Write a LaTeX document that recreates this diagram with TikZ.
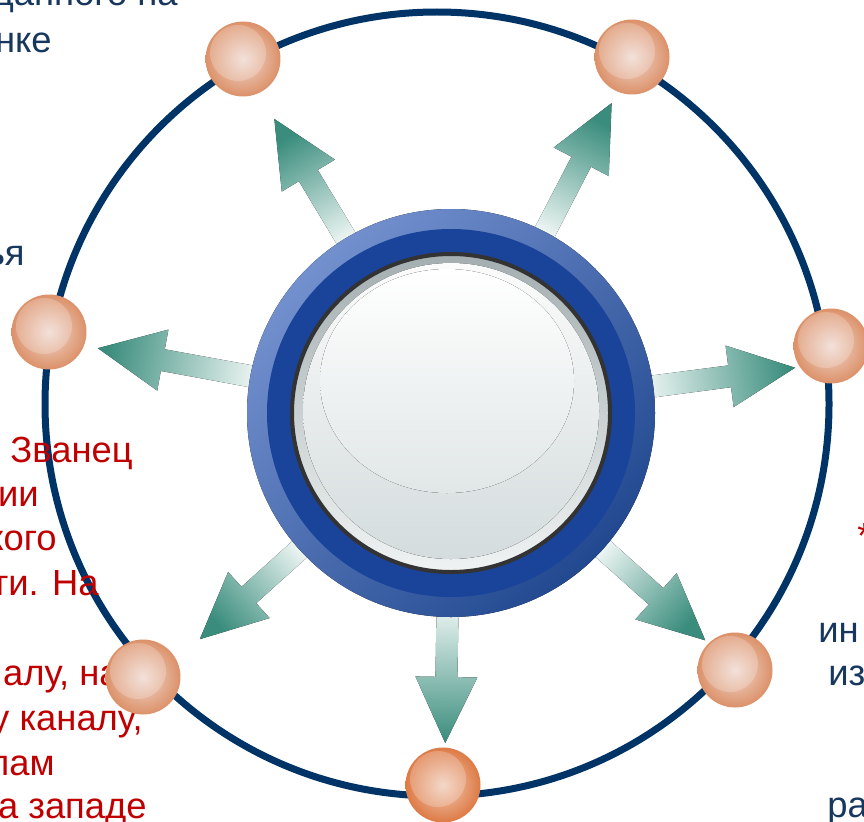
\documentclass[tikz,border=0pt]{standalone}
\usepackage{fontspec}
\setmainfont{Liberation Sans}
\usepackage{tikz}

\definecolor{orbit}{HTML}{003366}
\definecolor{txtblue}{HTML}{17375E}
\definecolor{txtred}{HTML}{C00000}
\definecolor{ballin}{HTML}{F0D9D0}
\definecolor{ballout}{HTML}{DC9169}
\definecolor{ballin2}{HTML}{F1CDB9}
\definecolor{ballout2}{HTML}{DE7A45}
\definecolor{spoketip}{HTML}{3A8D7D}
\definecolor{spokebase}{HTML}{EEF6F4}
\definecolor{rimhi}{HTML}{7390CE}
\definecolor{rimlo}{HTML}{224990}
\definecolor{rimmid}{HTML}{1A4499}
\definecolor{rimdark}{HTML}{333333}
\definecolor{facehi}{HTML}{A4AEB0}
\definecolor{facelo}{HTML}{F0F3F3}
\definecolor{glasshi}{HTML}{FBFBFB}
\definecolor{glasslo}{HTML}{D4DCDD}

\begin{document}
\begin{tikzpicture}[x=0.02cm, y=0.02cm,
	every node/.style={inner sep=0pt, font=\fontsize{20.7}{25}\selectfont},
	bluetext/.style={text=txtblue},
	redtext/.style={text=txtred},
	ball/.style={circle, minimum size=1.5cm, inner color=ballin, outer color=ballout,
		path picture={\fill[white, opacity=0.22] ([xshift=-0.1cm, yshift=0.12cm]path picture bounding box.center) circle (0.56cm);}},
	spoke/.style={top color=spoketip, bottom color=spokebase}]
		\useasboundingbox (0,0) rectangle (864,-821);
		
		% orbit
		\draw[orbit, line width=0.14cm] (437,-404) circle (392);
		
		% texts cut by the page border
		\node[bluetext, anchor=base east] (t1) at (178,-6) {данного на};
		\node[bluetext, anchor=base east] (t2) at (52,-52) {нке};
		\node[bluetext, anchor=base east] (t3) at (25,-265) {ья};
		\node[redtext, anchor=base east] (t4) at (133,-462) {Званец};
		\node[redtext, anchor=base east] (t5) at (39,-506) {ии};
		\node[redtext, anchor=base east] (t6) at (57,-550) {кого};
		\node[redtext, anchor=base east] (t7) at (99,-595) {ти. На};
		\node[redtext, anchor=base east] (t8) at (120,-685) {алу, на};
		\node[redtext, anchor=base east] (t9) at (143,-730) {у каналу,};
		\node[redtext, anchor=base east] (t10) at (55,-775) {лам};
		\node[redtext, anchor=base east] (t11) at (147,-818) {а западе};
		\node[redtext, anchor=base west] (t12) at (857,-548) {*};
		\node[bluetext, anchor=base west] (t13) at (818,-642) {ин};
		\node[bluetext, anchor=base west] (t14) at (828,-685) {из};
		\node[bluetext, anchor=base west] (t15) at (827,-817) {ра};
		
		% balls on the orbit
		\node[ball] (nw) at (243,-59) {};
		\node[ball] (ne) at (632,-57) {};
		\node[ball] (w) at (49,-332) {};
		\node[ball] (e) at (831,-346) {};
		\node[ball] (sw) at (143,-677) {};
		\node[ball] (se) at (735,-670) {};
		\node[ball, inner color=ballin2, outer color=ballout2] (s) at (443,-785) {};
		
		% spokes
		\coordinate (hub) at (451,-413);
		\foreach \ang/\len [evaluate=\ang as \sa using \ang-90] in {121/343, 62.6/349, 169.6/359, 7.5/347, 222/338, 318.2/341, 269/330}{
			\begin{scope}[shift={(hub)}, rotate=\ang]
				\fill[spoke, shading angle=\sa] (190,-11) -- ({\len-66},-11) -- ({\len-66},-31) -- (\len,0) -- ({\len-66},31) -- ({\len-66},11) -- (190,11) -- cycle;
			\end{scope}
		}
		
		% hub
		\fill[top color=rimhi, bottom color=rimlo, shading angle=45] (hub) circle (204);
		\fill[rimmid] (hub) circle (184);
		\fill[top color=facehi, bottom color=facelo] (hub) circle (159);
		\draw[rimdark, line width=0.08cm] (hub) circle (159);
		\fill[top color=glasshi, bottom color=glasslo] (451,-411) circle (148);
		\fill[top color=white, bottom color=glasslo!70!white] (447,-381) ellipse (127 and 112);
\end{tikzpicture}
\end{document}
